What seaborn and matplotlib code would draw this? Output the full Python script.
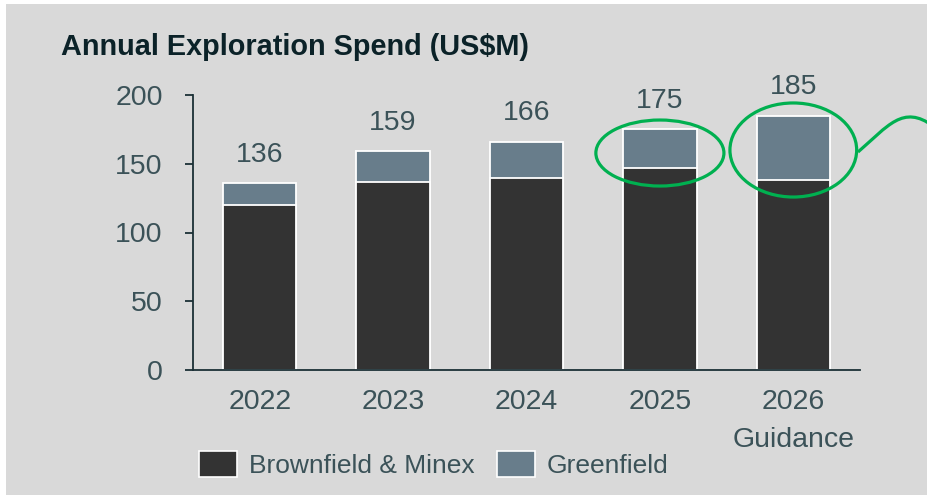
import matplotlib
matplotlib.use("Agg")
import matplotlib.pyplot as plt
from matplotlib.patches import Ellipse, Patch, Rectangle, PathPatch
from matplotlib.path import Path
import seaborn as sns
import pandas as pd

# Annual exploration spend, US$M
years = ["2022", "2023", "2024", "2025", "2026\nGuidance"]
totals = [136, 159, 166, 175, 185]
brownfield = [120, 137, 140, 147, 138]
greenfield = [t - b for t, b in zip(totals, brownfield)]

BG = "#d9d9d9"
DARK = "#333333"
SLATE = "#687d8b"
TEXT = "#3b5258"
TITLE = "#0b2228"
AXIS = "#1b3036"
GREEN = "#00b050"

sns.set_theme(style="white")
plt.rcParams["font.family"] = ["Liberation Sans", "DejaVu Sans"]

W, H = 928, 495
fig = plt.figure(figsize=(W / 100, H / 100), dpi=100, facecolor="white")
fig.patches.append(Rectangle((6 / W, 0), 1 - 6 / W, 1 - 4 / H, transform=fig.transFigure,
                             facecolor=BG, edgecolor="none", zorder=-10))

ax = fig.add_axes([193 / W, 1 - 370 / H, (860 - 193) / W, (370 - 95) / H])
ax.set_facecolor(BG)
ax.patch.set_alpha(0)

df = pd.DataFrame({"year": years, "total": totals, "brownfield": brownfield,
                   "greenfield": greenfield})

# Stacked bars: full total in slate, brownfield drawn over the lower part
sns.barplot(data=df, x="year", y="total", order=years, color=SLATE, width=0.55,
            edgecolor="white", linewidth=1.3, saturation=1, ax=ax)
sns.barplot(data=df, x="year", y="brownfield", order=years, color=DARK, width=0.55,
            edgecolor="white", linewidth=1.3, saturation=1, ax=ax)

ax.bar_label(ax.containers[0], labels=[str(v) for v in totals], padding=11,
             fontsize=20.5, color=TEXT)

ax.set_xlim(-0.5, 4.5)
ax.set_ylim(0, 200)
ax.set_yticks([0, 50, 100, 150, 200])
ax.set_xlabel("")
ax.set_ylabel("")
for s in ["top", "right"]:
    ax.spines[s].set_visible(False)
for s in ["left", "bottom"]:
    ax.spines[s].set_color(AXIS)
    ax.spines[s].set_linewidth(1.3)
ax.tick_params(axis="y", length=5.8, width=1.3, color=AXIS, pad=16,
               labelsize=20.5, labelcolor=TEXT, left=True)
ax.tick_params(axis="x", length=0, pad=14, labelsize=20.5, labelcolor=TEXT)
for lab in ax.get_xticklabels():
    lab.set_linespacing(1.6)

fig.text(61 / W, 1 - 47 / H, "Annual Exploration Spend (US$M)", fontsize=20.8,
         fontweight="bold", color=TITLE, ha="left", va="center")

# Highlight rings around the greenfield portions of 2025 and 2026
ax.add_patch(Ellipse((3.0, 157.8), 0.96, 48, fill=False, edgecolor=GREEN,
                     linewidth=2.3, clip_on=False, zorder=5))
ax.add_patch(Ellipse((4.0, 160), 0.95, 68.4, fill=False, edgecolor=GREEN,
                     linewidth=2.3, clip_on=False, zorder=5))

pts = [(858, 152), (888, 126), (903, 104), (933, 126)]
verts = [(x / W, 1 - y / H) for x, y in pts]
curve = Path(verts, [Path.MOVETO, Path.CURVE4, Path.CURVE4, Path.CURVE4])
fig.patches.append(PathPatch(curve, transform=fig.transFigure, fill=False,
                             edgecolor=GREEN, linewidth=2.3, zorder=5))

handles = [Patch(facecolor=DARK, edgecolor="white", linewidth=1.2, label="Brownfield & Minex"),
           Patch(facecolor=SLATE, edgecolor="white", linewidth=1.2, label="Greenfield")]
fig.legend(handles=handles, loc="center left", bbox_to_anchor=(199 / W, 1 - 464.5 / H),
           ncol=2, frameon=False, fontsize=19, labelcolor=TEXT, handlelength=1.45,
           handleheight=1.1, handletextpad=0.43, columnspacing=0.87,
           borderpad=0, borderaxespad=0)

fig.savefig("out.png", dpi=100, facecolor=fig.get_facecolor())
